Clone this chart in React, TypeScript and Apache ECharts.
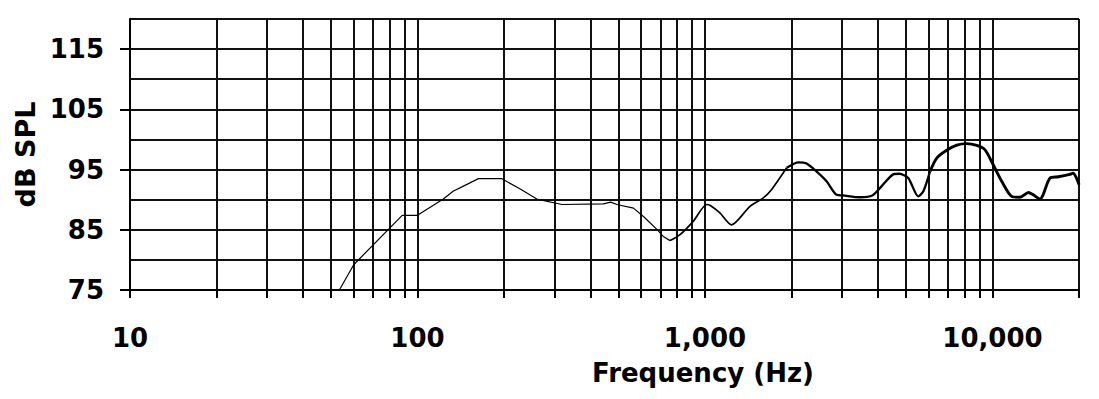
import React, { useEffect, useRef } from "react";
import * as echarts from "echarts";

// Frequency response (Hz, dB SPL)
const frequencies = [
  53.5, 60, 88.5, 100, 123, 133, 148, 163, 196, 227, 260, 318, 443, 470, 494, 564,
  611, 679, 716, 756, 819, 910, 1014, 1047, 1127, 1236, 1434, 1596, 1706, 1924, 2113, 2256, 2442, 2648,
  2870, 3020, 3458, 3820, 4110, 4514, 4740, 5094, 5520, 5750, 6067, 6400, 6930,
  7520, 8130, 8820, 9410, 10060, 10770, 11660, 12460, 13340, 13860, 14630, 15000,
  15860, 16970, 18570, 19070, 19600, 20000,
];
const splValues = [
  75, 79.2, 87.4, 87.4, 90.1, 91.4, 92.5, 93.5, 93.5, 91.8, 90.1, 89.2, 89.3, 89.6, 89.2, 88.6,
  87.2, 85.1, 83.9, 83.2, 84.2, 86.4, 89.2, 89.0, 87.8, 85.8, 88.9, 90.3, 91.7, 95.3, 96.2, 96.0, 94.7, 93.05,
  90.8, 90.7, 90.4, 90.7, 92.2, 94.2, 94.3, 93.6, 90.55, 91.4, 94.7, 96.9, 98.2,
  99.05, 99.3, 99.0, 98.3, 95.8, 93.05, 90.55, 90.4, 91.2, 90.8, 90.1, 90.8,
  93.6, 93.8, 94.2, 94.4, 93.6, 92.5,
];

// line weight changes at these frequencies (trace gets heavier towards the top)
const segmentBreaks = [756, 1924, 6067];
const segmentWidths = [1.2, 1.7, 2.3, 2.9];

const gridFrequencies = [
  10, 20, 30, 40, 50, 60, 70, 80, 90,
  100, 200, 300, 400, 500, 600, 700, 800, 900,
  1000, 2000, 3000, 4000, 5000, 6000, 7000, 8000, 9000,
  10000, 20000,
];
const frequencyLabels = [10, 100, 1000, 10000];
const dbLabels = [75, 85, 95, 105, 115];

const FONT = "DejaVu Sans";

export default function App() {
  const ref = useRef<HTMLDivElement>(null);

  useEffect(() => {
    const chart = echarts.init(ref.current!, null, { renderer: "svg" });

    const points = frequencies.map((f, i) => [f, splValues[i]]);
    const bounds = [frequencies[0], ...segmentBreaks, frequencies[frequencies.length - 1]];
    const series = segmentWidths.map((w, s) => ({
      type: "line",
      xAxisIndex: 0,
      yAxisIndex: 0,
      data: points.filter((p) => p[0] >= bounds[s] && p[0] <= bounds[s + 1]),
      showSymbol: false,
      symbol: "none",
      smooth: s === 0 ? false : 0.25,
      lineStyle: { color: "#000", width: w },
      z: 5,
      clip: true,
    }));

    chart.setOption({
      animation: false,
      backgroundColor: "#fff",
      grid: { left: 130, right: 20, top: 19, bottom: 109, containLabel: false },
      xAxis: {
        type: "log",
        logBase: 10,
        min: 10,
        max: 20000,
        axisLine: { show: true, lineStyle: { color: "#000", width: 2 } },
        axisTick: {
          show: true,
          customValues: gridFrequencies,
          length: 8,
          lineStyle: { color: "#000", width: 2 },
        },
        axisLabel: {
          customValues: frequencyLabels,
          formatter: (v: number) => Math.round(v).toLocaleString("en-US"),
          fontFamily: FONT,
          fontWeight: "bold",
          fontSize: 26,
          color: "#000",
          margin: 35,
        },
        splitLine: { show: true, lineStyle: { color: "#111", width: 2 } },
      },
      yAxis: [
        {
          type: "value",
          min: 75,
          max: 120,
          interval: 5,
          position: "left",
          axisLine: { show: true, lineStyle: { color: "#000", width: 2 } },
          axisTick: { show: false },
          axisLabel: { show: false },
          splitLine: { show: true, lineStyle: { color: "#111", width: 2 } },
        },
        {
          type: "value",
          min: 75,
          max: 120,
          position: "left",
          name: "dB SPL",
          nameLocation: "middle",
          nameGap: 88,
          nameTextStyle: { fontFamily: FONT, fontWeight: "bold", fontSize: 27, color: "#000" },
          axisLine: { show: false },
          axisTick: {
            show: true,
            customValues: dbLabels,
            length: 10,
            lineStyle: { color: "#000", width: 2 },
          },
          axisLabel: {
            customValues: dbLabels,
            fontFamily: FONT,
            fontWeight: "bold",
            fontSize: 26,
            color: "#000",
            margin: 26,
          },
          splitLine: { show: false },
        },
      ],
      graphic: [
        {
          type: "text",
          x: 703,
          y: 373,
          style: {
            text: "Frequency (Hz)",
            fontFamily: FONT,
            fontWeight: "bold",
            fontSize: 26,
            fill: "#000",
            textAlign: "center",
            textVerticalAlign: "middle",
          },
        },
      ],
      series,
    });

    return () => chart.dispose();
  }, []);

  return (
    <div
      ref={ref}
      style={{ position: "fixed", left: 0, top: 0, width: 1099, height: 399, background: "#fff" }}
    />
  );
}
